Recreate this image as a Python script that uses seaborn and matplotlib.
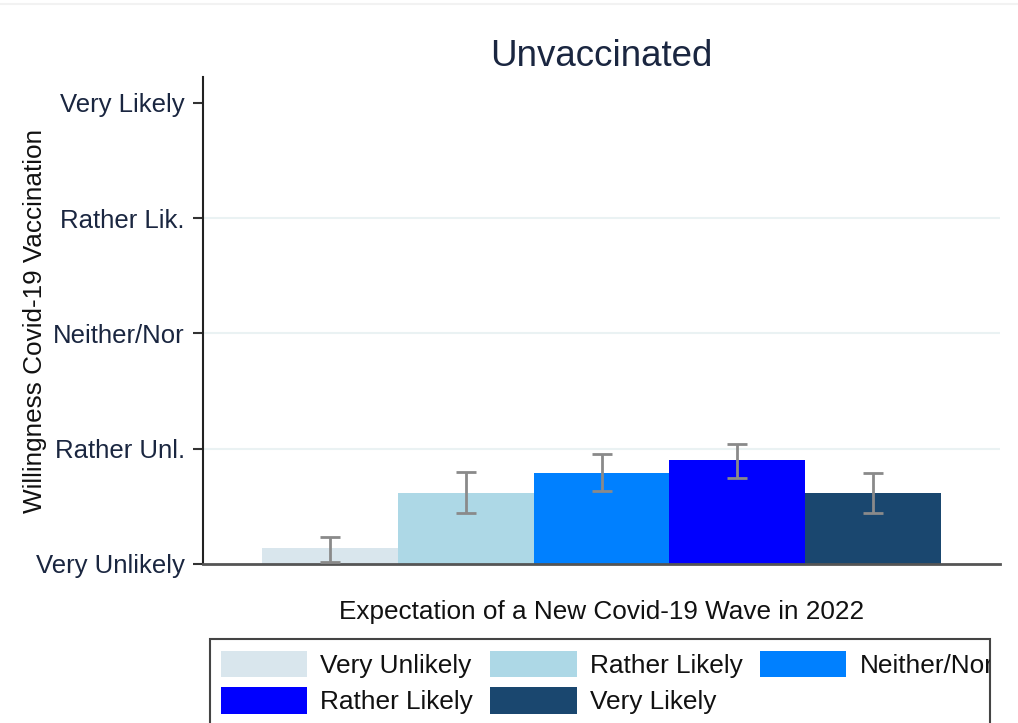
import matplotlib
matplotlib.use("Agg")
import matplotlib.pyplot as plt
from matplotlib.lines import Line2D
from matplotlib.patches import Rectangle
import numpy as np
import pandas as pd
import seaborn as sns

# values
categories = ["Very Unlikely", "Rather Unlikely", "Neither/Nor", "Rather Likely", "Very Likely"]
legend_labels = ["Very Unlikely", "Rather Likely", "Neither/Nor", "Rather Likely", "Very Likely"]
means = [1.135, 1.62, 1.79, 1.90, 1.615]
ci_low = [1.015, 1.44, 1.635, 1.75, 1.44]
ci_high = [1.235, 1.80, 1.95, 2.04, 1.79]
ytick_values = [1, 2, 3, 4, 5]
ytick_labels = ["Very Unlikely", "Rather Unl.", "Neither/Nor", "Rather Lik.", "Very Likely"]
colors = ["#d9e6ed", "#add8e6", "#0080ff", "#0000ff", "#1a476f"]

TEXT = "#1a2640"
W, H = 1018, 723

sns.set_theme(style="white")
plt.rcParams["font.family"] = ["Liberation Sans", "DejaVu Sans"]

df = pd.DataFrame({"category": categories, "mean": means})

fig = plt.figure(figsize=(W / 100, H / 100), dpi=100)
ax = fig.add_axes([203 / W, 1 - 564 / H, (1000 - 203) / W, (564 - 77) / H])

sns.barplot(
    data=df, x="category", y="mean", hue="category", palette=colors,
    order=categories, hue_order=categories, width=1.0, errorbar=None,
    legend=False, ax=ax, linewidth=0, saturation=1,
)

xpos = np.arange(len(categories))
ax.errorbar(
    xpos, means,
    yerr=[np.array(means) - np.array(ci_low), np.array(ci_high) - np.array(means)],
    fmt="none", ecolor="#8a8a8a", elinewidth=2, capsize=7, capthick=2, zorder=5,
)

ax.set_ylim(1, 5.225)
ax.set_xlim(-0.934, 4.934)
ax.set_yticks(ytick_values)
ax.set_yticklabels(ytick_labels, fontsize=18.5, color=TEXT)
ax.set_xticks([])
ax.tick_params(axis="y", length=7, width=1.5, color="#333333", left=True, pad=6)
for v in ytick_values[1:4]:
    ax.axhline(v, color="#eaf2f3", lw=1.5, zorder=0)

for s in ["top", "right"]:
    ax.spines[s].set_visible(False)
ax.spines["left"].set_color("#222222")
ax.spines["left"].set_linewidth(1.5)
ax.spines["bottom"].set_color("#555555")
ax.spines["bottom"].set_linewidth(2)

ax.set_title("Unvaccinated", fontsize=26.5, color=TEXT, pad=8)
ax.set_xlabel("Expectation of a New Covid-19 Wave in 2022", fontsize=18.8, color="#111111", labelpad=26)
ax.set_ylabel("Willingness Covid-19 Vaccination", fontsize=18.8, color="#111111", labelpad=-8)

# legend: row-wise order, frame runs off the bottom and clips the last label
handles = [Rectangle((0, 0), 1, 1, facecolor=c, edgecolor="none") for c in colors]
order = [0, 3, 1, 4, 2]
leg = fig.legend(
    [handles[i] for i in order], [legend_labels[i] for i in order], ncol=3,
    loc="upper left", bbox_to_anchor=(210 / W, 1 - 640 / H),
    fontsize=18.9, frameon=False,
    handlelength=3.3, handleheight=1.2, handletextpad=0.5, columnspacing=0.65,
    labelspacing=0.35, borderpad=0.4, borderaxespad=0,
)
frame = Rectangle((210 / W, -0.05), 780 / W, 0.05 + (H - 639) / H, transform=fig.transFigure,
                  facecolor="none", edgecolor="#444444", linewidth=1.5)
fig.add_artist(frame)
clip = Rectangle((210 / W, 0), 780 / W, 1, transform=fig.transFigure)
for t in leg.get_texts():
    t.set_color("#111111")
    t.set_clip_path(clip)

fig.add_artist(Line2D([0, 1], [1 - 4 / H, 1 - 4 / H], transform=fig.transFigure,
                      color="#f2f2f2", lw=1.5))

fig.savefig("out.png", dpi=100)
